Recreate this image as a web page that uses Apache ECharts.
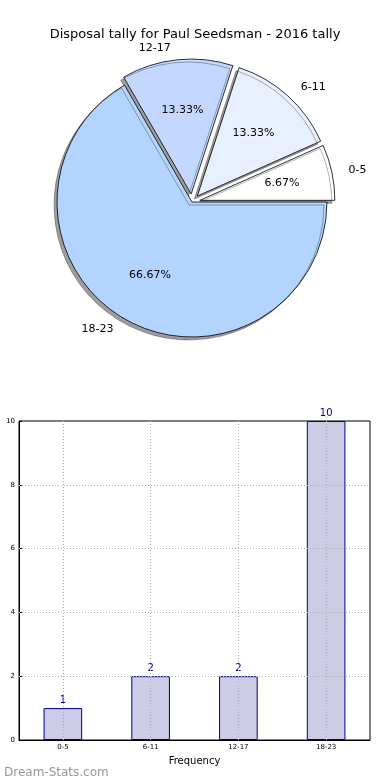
<!DOCTYPE html>
<html><head><meta charset="utf-8">
<script src="https://cdn.jsdelivr.net/npm/echarts@6/dist/echarts.min.js"></script>
<style>html,body{margin:0;padding:0;background:#fff;}#c{width:390px;height:780px;}</style>
</head><body><div id="c"></div>
<script>
const categories = ['0-5', '6-11', '12-17', '18-23'];
const tallies = [1, 2, 2, 10];
const exploded = [true, true, true, false];
const sliceColors = ['#ffffff', '#e8f0ff', '#c4d8ff', '#b3d4ff'];
const yTicks = [0, 2, 4, 6, 8, 10];

const font = 'DejaVu Sans';
const chart = echarts.init(document.getElementById('c'), null, {renderer: 'canvas'});

const pieData = categories.map((c, i) => ({
  name: c, value: tallies[i], selected: exploded[i],
  itemStyle: {color: sliceColors[i]}
}));
const pieLabelData = categories.map((c, i) => ({
  name: c, value: tallies[i], selected: exploded[i]
}));

// dotted grid drawn on top of the bars, as in the reference
const gridLines = categories.map(c => ({xAxis: c}))
  .concat(yTicks.filter(v => v > 0 && v < 10).map(v => ({yAxis: v})));

const R = 135;
chart.setOption({
  animation: false,
  textStyle: {fontFamily: font},
  title: [
    {text: 'Disposal tally for Paul Seedsman - 2016 tally', left: 'center', top: 23,
     textStyle: {fontFamily: font, fontSize: 13, fontWeight: 'normal', color: '#000'}},
    {text: 'Dream-Stats.com', left: -1, top: 762,
     textStyle: {fontFamily: font, fontSize: 12, fontWeight: 'normal', color: '#999999'}}
  ],
  grid: {left: 19, right: 20, top: 421, bottom: 40, show: true, borderColor: '#000', borderWidth: 1,
         containLabel: false, outerBoundsMode: 'none'},
  xAxis: {
    type: 'category', data: categories, name: 'Frequency', nameLocation: 'middle', nameGap: 16,
    nameTextStyle: {fontFamily: font, fontSize: 10, color: '#000'},
    axisLine: {show: true, lineStyle: {color: '#000'}},
    axisTick: {show: true, alignWithLabel: true, inside: true, length: 3, lineStyle: {color: '#000'}},
    axisLabel: {fontFamily: font, fontSize: 7, color: '#000', margin: 4},
    splitLine: {show: false}
  },
  yAxis: {
    type: 'value', min: 0, max: 10, interval: 2,
    name: 'Disposal Tally', nameLocation: 'middle', nameGap: 20, nameRotate: 90,
    nameTextStyle: {fontFamily: font, fontSize: 10, color: '#000'},
    axisLine: {show: true, lineStyle: {color: '#000'}},
    axisTick: {show: true, inside: true, length: 3, lineStyle: {color: '#000'}},
    axisLabel: {fontFamily: font, fontSize: 7, color: '#000', margin: 4,
      formatter: v => yTicks.includes(v) ? String(v) : ''},
    splitLine: {show: false}
  },
  series: [
    {
      type: 'pie', center: [192, 202], radius: [0, R], startAngle: 0, clockwise: false,
      selectedMode: 'multiple', selectedOffset: 8, silent: true, emphasis: {disabled: true},
      avoidLabelOverlap: false,
      itemStyle: {borderColor: '#000', borderWidth: 0.8, shadowColor: 'rgba(0,0,0,0.38)', shadowBlur: 0, shadowOffsetX: -3, shadowOffsetY: 3},
      label: {show: true, position: 'outside', fontFamily: font, fontSize: 11, color: '#000', formatter: '{b}'},
      labelLine: {show: false, length: 12, length2: 0},
      data: pieData
    },
    {
      type: 'pie', center: [192, 202], radius: [0, R * 1.2], startAngle: 0, clockwise: false,
      selectedMode: 'multiple', selectedOffset: 8, silent: true, emphasis: {disabled: true},
      itemStyle: {color: 'rgba(0,0,0,0)', borderWidth: 0},
      label: {show: true, position: 'inside', fontFamily: font, fontSize: 11, color: '#000', formatter: '{d}%'},
      labelLine: {show: false},
      data: pieLabelData
    },
    {
      type: 'bar', data: tallies, barWidth: '44%',
      itemStyle: {color: '#ccccE6', borderColor: '#00008b', borderWidth: 1},
      label: {show: true, position: 'top', fontFamily: font, fontSize: 10, color: '#00008b', distance: 3},
      emphasis: {disabled: true},
      markLine: {
        silent: true, symbol: 'none', animation: false,
        label: {show: false},
        lineStyle: {color: '#b0b0b0', type: [1, 2], width: 1},
        emphasis: {disabled: true},
        data: gridLines
      }
    }
  ]
});
</script>
</body></html>
